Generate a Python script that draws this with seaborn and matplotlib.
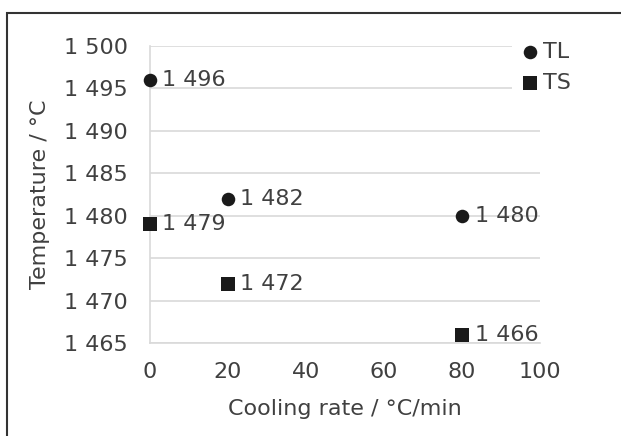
import pandas as pd
import seaborn as sns
import matplotlib.pyplot as plt
from matplotlib.ticker import FuncFormatter, MultipleLocator
from matplotlib.patches import Rectangle

# Cooling rate (°C/min) vs. liquidus / solidus temperature (°C)
COOLING_RATE = [0, 20, 80]
TL_VALUES = [1496, 1482, 1480]
TS_VALUES = [1479, 1472, 1466]
SERIES = ["TL", "TS"]
MARKERS = {"TL": "o", "TS": "s"}

TEXT = "#404040"
GRID = "#d9d9d9"
INK = "#1a1a1a"


def fmt_thousands(v, pos=None):
    return f"{int(round(v)):,}".replace(",", " ")


def main():
    df = pd.DataFrame({
        "rate": COOLING_RATE * 2,
        "temp": TL_VALUES + TS_VALUES,
        "series": ["TL"] * len(TL_VALUES) + ["TS"] * len(TS_VALUES),
    })

    sns.set_theme(style="white")
    plt.rcParams["font.family"] = ["DejaVu Sans"]
    plt.rcParams["font.size"] = 16

    fig = plt.figure(figsize=(6.21, 4.36), dpi=100)
    ax = fig.add_axes([0.2415, 0.2133, 0.6281, 0.6812])

    for s in SERIES:
        sub = df[df["series"] == s]
        sns.scatterplot(data=sub, x="rate", y="temp", marker=MARKERS[s],
                        s=95, color=INK, edgecolor=INK, linewidth=0,
                        label=s, clip_on=False, zorder=3, ax=ax)

    # value labels right of each marker
    for _, r in df.iterrows():
        ax.annotate(fmt_thousands(r["temp"]), (r["rate"], r["temp"]),
                    xytext=(9, 0), textcoords="offset points",
                    ha="left", va="center", fontsize=16, color=TEXT, zorder=4)

    ax.set_xlim(0, 100)
    ax.set_ylim(1465, 1500)
    ax.xaxis.set_major_locator(MultipleLocator(20))
    ax.yaxis.set_major_locator(MultipleLocator(5))
    ax.yaxis.set_major_formatter(FuncFormatter(fmt_thousands))

    ax.grid(True, axis="y", color=GRID, linewidth=1.2)
    ax.set_axisbelow(True)
    for side in ("top", "right"):
        ax.spines[side].set_visible(False)
    for side in ("left", "bottom"):
        ax.spines[side].set_color(GRID)
        ax.spines[side].set_linewidth(1.2)
    ax.tick_params(axis="both", which="major", length=6, width=1.2,
                   color=GRID, labelcolor=TEXT, labelsize=16)
    ax.tick_params(axis="y", pad=10)
    ax.tick_params(axis="x", pad=8)

    ax.set_xlabel("Cooling rate / °C/min", color=TEXT, fontsize=16, labelpad=12)
    ax.set_ylabel("Temperature / °C", color=TEXT, fontsize=16, labelpad=10)

    leg = ax.legend(loc="upper right", bbox_to_anchor=(1.125, 1.074), frameon=True,
                    handletextpad=0.1, labelspacing=0.5, borderpad=0.3,
                    handlelength=1.0, markerscale=1.0, fontsize=16)
    leg.get_frame().set_facecolor("white")
    leg.get_frame().set_edgecolor("none")
    leg.get_frame().set_alpha(1.0)
    for t in leg.get_texts():
        t.set_color(TEXT)

    # outer frame, cropped at right and bottom as in the source
    fig.patches.append(Rectangle((7 / 621, -0.1), 1.2, (436 - 13) / 436 + 0.1,
                                 transform=fig.transFigure, fill=False,
                                 edgecolor="#333333", linewidth=1.5))

    fig.savefig("out.png", dpi=100)


if __name__ == "__main__":
    main()
